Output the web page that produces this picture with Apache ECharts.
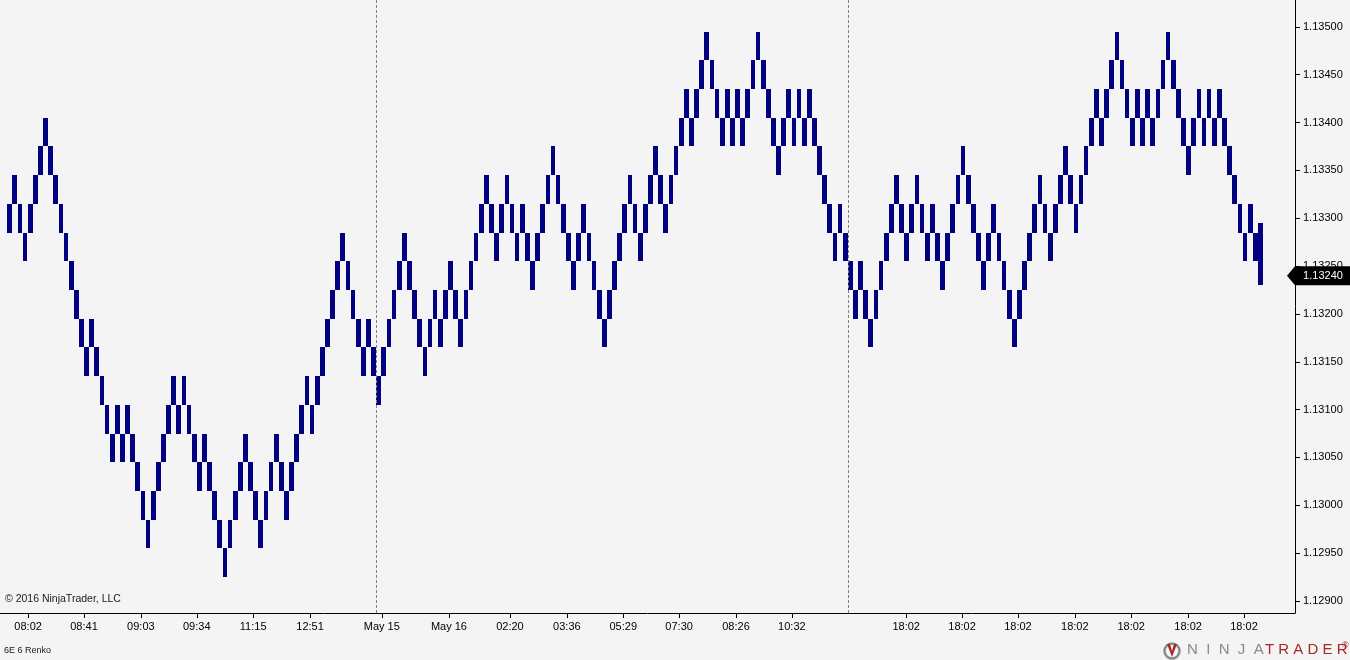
<!DOCTYPE html>
<html><head><meta charset="utf-8">
<script src="https://cdn.jsdelivr.net/npm/echarts@6/dist/echarts.min.js"></script>
<style>html,body{margin:0;padding:0;background:#f4f4f4}#c{width:1350px;height:660px}</style>
</head><body><div id="c"></div>
<script>
// ---- data ----
const brickSize = 0.0003;
const brickLow = [
1.13285,1.13315,1.13285,1.13255,1.13285,1.13315,1.13345,1.13375,1.13345,1.13315,1.13285,1.13255,1.13225,1.13195,1.13165,1.13135,1.13165,1.13135,1.13105,
1.13075,1.13045,
1.13075,1.13045,1.13075,1.13045,1.13015,1.12985,1.12955,1.12985,1.13015,1.13045,1.13075,1.13105,1.13075,1.13105,1.13075,1.13045,1.13015,1.13045,1.13015,1.12985,1.12955,1.12925,1.12955,1.12985,
1.13015,1.13045,1.13015,1.12985,1.12955,1.12985,1.13015,1.13045,1.13015,1.12985,1.13015,1.13045,1.13075,1.13105,1.13075,1.13105,1.13135,1.13165,1.13195,1.13225,1.13255,1.13225,
1.13195,1.13165,1.13135,1.13165,1.13135,1.13105,1.13135,1.13165,1.13195,1.13225,1.13255,1.13225,1.13195,1.13165,1.13135,1.13165,1.13195,1.13165,1.13195,1.13225,1.13195,1.13165,1.13195,
1.13225,1.13255,1.13285,1.13315,1.13285,1.13255,1.13285,1.13315,1.13285,1.13255,1.13285,1.13255,1.13225,1.13255,1.13285,1.13315,1.13345,1.13315,1.13285,1.13255,1.13225,1.13255,
1.13285,1.13255,1.13225,1.13195,1.13165,1.13195,1.13225,1.13255,1.13285,1.13315,1.13285,1.13255,1.13285,1.13315,1.13345,1.13315,1.13285,1.13315,1.13345,1.13375,1.13405,1.13375,
1.13405,1.13435,1.13465,1.13435,1.13405,1.13375,1.13405,1.13375,1.13405,1.13375,1.13405,1.13435,1.13465,1.13435,1.13405,1.13375,1.13345,1.13375,1.13405,1.13375,1.13405,1.13375,1.13405,
1.13375,1.13345,1.13315,1.13285,1.13255,1.13285,1.13255,1.13225,1.13195,1.13225,1.13195,1.13165,1.13195,1.13225,1.13255,1.13285,1.13315,1.13285,1.13255,1.13285,1.13315,1.13285,
1.13255,1.13285,1.13255,1.13225,1.13255,1.13285,1.13315,1.13345,1.13315,1.13285,1.13255,1.13225,1.13255,1.13285,1.13255,1.13225,1.13195,1.13165,1.13195,1.13225,1.13255,1.13285,1.13315,
1.13285,1.13255,1.13285,1.13315,1.13345,1.13315,1.13285,1.13315,1.13345,1.13375,1.13405,1.13375,1.13405,1.13435,1.13465,1.13435,1.13405,1.13375,1.13405,1.13375,1.13405,1.13375,
1.13405,1.13435,1.13465,1.13435,1.13405,1.13375,1.13345,1.13375,1.13405,1.13375,1.13405,1.13375,1.13405,1.13375,1.13345,1.13315,1.13285,1.13255,1.13285,1.13255
];
const formingBar = [1.13230, 1.13295];   // last (forming) bar low / high
const lastPrice = 1.13240;
const sessionBreaks = [71.5, 163.5];
const xTickPos = [3.6,14.5,25.6,36.5,47.5,58.6,72.6,85.7,97.6,108.7,119.7,130.6,141.7,152.6,174.9,185.8,196.7,207.8,218.8,229.9,240.8];
const xTickLabels = ['08:02','08:41','09:03','09:34','11:15','12:51','May 15','May 16','02:20','03:36','05:29','07:30','08:26','10:32','18:02','18:02','18:02','18:02','18:02','18:02','18:02'];
const yTicks = [1.12900,1.12950,1.13000,1.13050,1.13100,1.13150,1.13200,1.13250,1.13300,1.13350,1.13400,1.13450,1.13500];

// ---- build ----
const bricks = brickLow.map((lo, i) => [i, lo, lo + brickSize]);
bricks.push([brickLow.length, formingBar[0], formingBar[1]]);

const FONT = '"Liberation Sans", Arial, sans-serif';
const chart = echarts.init(document.getElementById('c'), null, {renderer: 'canvas'});

function renderItem(params, api) {
  const i = api.value(0);
  const top = api.coord([i, api.value(2)]);
  const bot = api.coord([i, api.value(1)]);
  const w = api.size([1, 0])[0] * 0.92;
  const x0 = Math.round(top[0] - w / 2), x1 = Math.round(top[0] + w / 2);
  const y0 = Math.round(top[1]), y1 = Math.round(bot[1]);
  return {type: 'rect', shape: {x: x0, y: y0, width: x1 - x0, height: y1 - y0}, style: {fill: '#000080'}};
}

const X_MIN = -1.883, X_MAX = 250.75;

chart.setOption({
  backgroundColor: '#f4f4f4',
  animation: false,
  grid: {left: 0, right: 55, top: 0, bottom: 47, containLabel: false},
  xAxis: {
    type: 'value', min: X_MIN, max: X_MAX,
    axisLine: {show: true, onZero: false, lineStyle: {color: '#000', width: 1}},
    axisTick: {show: true, length: 5, lineStyle: {color: '#000'}, customValues: xTickPos},
    axisLabel: {
      show: true, customValues: xTickPos, margin: 8, color: '#000', fontFamily: FONT, fontSize: 11,
      formatter: (v) => { const k = xTickPos.indexOf(v); return k >= 0 ? xTickLabels[k] : ''; }
    },
    splitLine: {show: false}
  },
  yAxis: {
    type: 'value', position: 'right', min: 1.128874, max: 1.135281, scale: true,
    axisLine: {show: true, onZero: false, lineStyle: {color: '#000', width: 1}},
    axisTick: {show: true, length: 5, inside: false, lineStyle: {color: '#000'}, customValues: yTicks},
    axisLabel: {show: true, customValues: yTicks, margin: 8, color: '#000', fontFamily: FONT, fontSize: 11,
      formatter: (v) => v.toFixed(5)},
    splitLine: {show: false}
  },
  series: [{
    type: 'custom',
    renderItem: renderItem,
    encode: {x: 0, y: [1, 2]},
    data: bricks,
    clip: false,
    markLine: {
      silent: true, symbol: 'none', label: {show: false},
      lineStyle: {color: '#808080', type: [3, 2], width: 1},
      data: sessionBreaks.map(v => ({xAxis: v}))
    },
    markPoint: {
      silent: true,
      symbol: 'path://M0,9 L8,0 L64,0 L64,18 L8,18 Z',
      symbolSize: [64, 19],
      symbolOffset: [24, 0],
      itemStyle: {color: '#000'},
      label: {show: true, color: '#fff', fontFamily: FONT, fontSize: 11, offset: [4, 0],
        formatter: () => lastPrice.toFixed(5)},
      data: [{coord: [X_MAX, lastPrice]}]
    }
  }],
  graphic: [
    {type: 'text', left: 5, top: 594, style: {text: '\u00a9 2016 NinjaTrader, LLC', fill: '#1a1a1a', font: '10.5px ' + FONT}},
    {type: 'text', left: 4, top: 646, style: {text: '6E 6 Renko', fill: '#1a1a1a', font: '9px ' + FONT}},
    {type: 'group', left: 1162, top: 641, children: [
      {type: 'circle', shape: {cx: 10, cy: 8, r: 7.5}, style: {fill: 'none', stroke: '#8a8a8a', lineWidth: 2.5}},
      {type: 'polygon', shape: {points: [[5, 1], [10, 14], [15, 1], [12, 1], [10, 8], [8, 1]]}, style: {fill: '#a8262b'}},
      {type: 'text', x: 25, y: -1, style: {text: 'N  I  N  J  A', fill: '#8a8a8a', font: '15px ' + FONT}},
      {type: 'text', x: 103, y: -1, style: {text: 'T R A D E R', fill: '#a8262b', font: '15px ' + FONT}},
      {type: 'text', x: 180, y: -2, style: {text: '\u00ae', fill: '#a8262b', font: '9px ' + FONT}}
    ]}
  ]
});
</script>
</body></html>
